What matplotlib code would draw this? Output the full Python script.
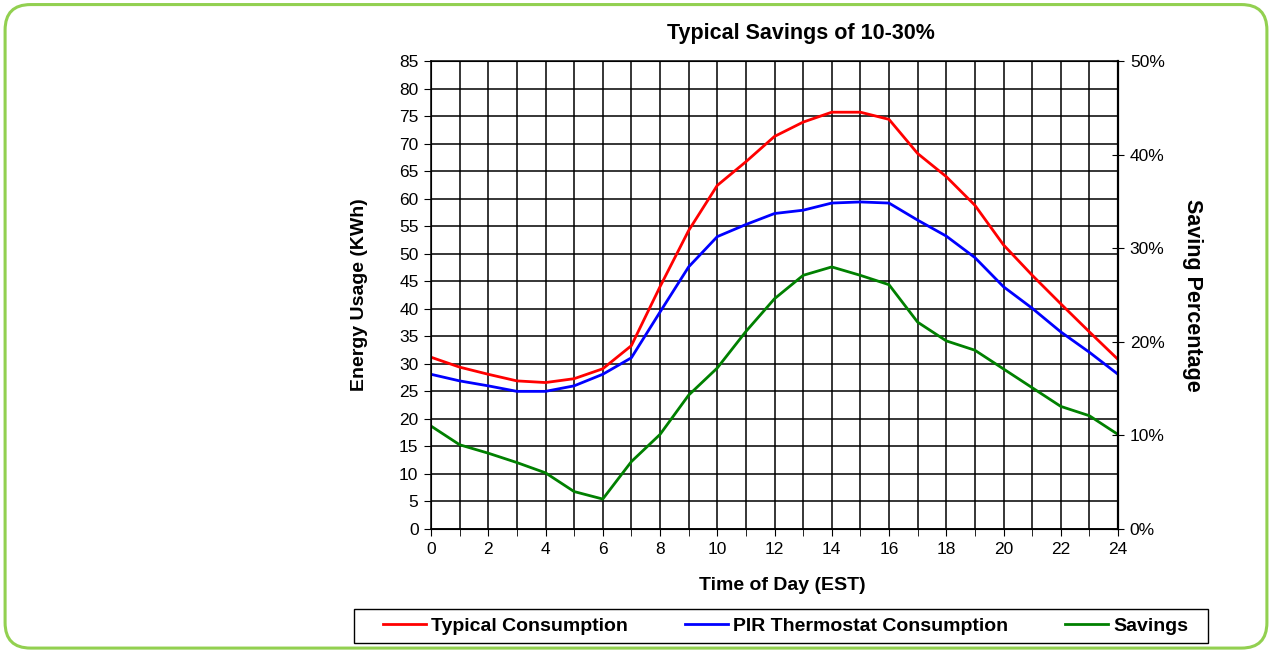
import numpy as np
import matplotlib.pyplot as plt
from matplotlib.patches import FancyBboxPatch, Rectangle
from matplotlib.ticker import MultipleLocator, PercentFormatter

plt.rcParams['font.family'] = ['Liberation Sans', 'DejaVu Sans']

hours = list(range(0, 25))

typical = [31.2, 29.4, 28.1, 26.9, 26.6, 27.3, 29.1, 33.3, 44.0, 54.2, 62.4, 66.7, 71.3,
           73.9, 75.7, 75.7, 74.4, 68.2, 64.0, 58.8, 51.6, 46.1, 40.9, 35.8, 30.8]
pir = [28.1, 26.9, 26.0, 25.0, 25.0, 26.0, 28.1, 31.1, 39.4, 47.6, 53.1, 55.3, 57.3,
       57.9, 59.2, 59.4, 59.2, 56.1, 53.2, 49.3, 44.0, 40.1, 35.8, 32.1, 28.1]
savings = [11.0, 9.0, 8.1, 7.1, 6.0, 4.0, 3.2, 7.2, 10.1, 14.3, 17.2, 21.1, 24.6,
           27.1, 28.0, 27.1, 26.1, 22.1, 20.1, 19.1, 17.1, 15.1, 13.1, 12.1, 10.1]

W, H = 1272, 652
fig = plt.figure(figsize=(W / 100, H / 100), dpi=100)

# rounded green frame around everything
frame = FancyBboxPatch((0.004, 0.006), 0.992, 0.987,
                       boxstyle='round,pad=0,rounding_size=0.02',
                       transform=fig.transFigure, fill=False,
                       edgecolor='#92D050', linewidth=2.2, mutation_aspect=W / H)
fig.patches.append(frame)

ax = fig.add_axes([431 / W, 1 - 529 / H, 687 / W, 468 / H])
l1, = ax.plot(hours, typical, color='#FF0000', lw=2, label='Typical Consumption')
l2, = ax.plot(hours, pir, color='#0000FF', lw=2, label='PIR Thermostat Consumption')

ax.set_xlim(0, 24)
ax.set_ylim(0, 85)
ax.xaxis.set_major_locator(MultipleLocator(2))
ax.xaxis.set_minor_locator(MultipleLocator(1))
ax.yaxis.set_major_locator(MultipleLocator(5))
ax.grid(True, which='both', color='black', lw=1.1)
ax.tick_params(axis='x', which='both', length=5, direction='out', color='black')
ax.tick_params(axis='both', which='major', labelsize=12.5, length=5, direction='out',
               color='black', pad=4)
for s in ax.spines.values():
    s.set_color('black')
    s.set_linewidth(1.1)

ax2 = ax.twinx()
l3, = ax2.plot(hours, savings, color='#008000', lw=2, label='Savings')
ax2.set_ylim(0, 50)
ax2.yaxis.set_major_locator(MultipleLocator(10))
ax2.yaxis.set_major_formatter(PercentFormatter(decimals=0))
ax2.tick_params(axis='y', labelsize=12.5, length=9, direction='inout', color='black', pad=4)
ax2.spines['right'].set_linewidth(1.6)

# titles placed at fixed spots around the plot box
ax.text((801 - 431) / 687, (529 - 33) / 468, 'Typical Savings of 10-30%',
        transform=ax.transAxes, ha='center', va='center', fontsize=15.5, fontweight='bold')
ax.text((782 - 431) / 687, (529 - 585) / 468, 'Time of Day (EST)', transform=ax.transAxes,
        ha='center', va='center', fontsize=14, fontweight='bold')
ax.text((360 - 431) / 687, 0.5, 'Energy Usage (KWh)', transform=ax.transAxes,
        ha='center', va='center', rotation=90, fontsize=14, fontweight='bold')
ax.text((1192 - 431) / 687, 0.5, 'Saving Percentage', transform=ax.transAxes,
        ha='center', va='center', rotation=270, fontsize=15.5, fontweight='bold')

# legend box below the chart, entries spread across it
fig.patches.append(Rectangle((354 / W, 1 - 643 / H), 854 / W, 34 / H,
                             transform=fig.transFigure, fill=False,
                             edgecolor='black', linewidth=1.0))
leg = fig.legend(handles=[l1, l2, l3], loc='center left',
                 bbox_to_anchor=(383 / W, 1 - 643 / H, 805 / W, 34 / H),
                 ncol=3, mode='expand', frameon=False,
                 prop={'weight': 'bold', 'size': 14}, handlelength=2.2,
                 handletextpad=0.25, borderpad=0, borderaxespad=0)

fig.savefig('out.png', dpi=100)
